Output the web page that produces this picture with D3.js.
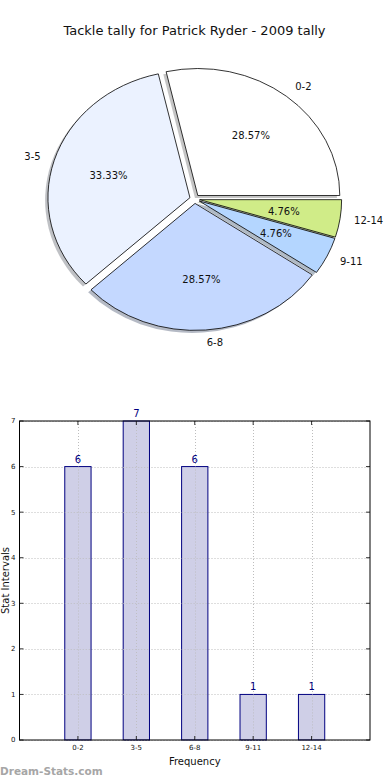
<!DOCTYPE html>
<html><head><meta charset="utf-8">
<script src="https://cdn.jsdelivr.net/npm/d3@7/dist/d3.min.js"></script>
<style>body{margin:0;background:#fff}svg{display:block;font-family:"DejaVu Sans",sans-serif}</style>
</head><body><svg id="c" width="390" height="780"></svg>
<script>
const title = "Tackle tally for Patrick Ryder - 2009 tally";
const categories = ["0-2","3-5","6-8","9-11","12-14"];
const counts = [6,7,6,1,1];
const pieColors = ["#ffffff","#ebf2ff","#c4d8ff","#b4d6ff","#d0ec88"];
const yTicks = [0,1,2,3,4,5,6,7];
const xLabel = "Frequency", yLabel = "Stat Intervals", watermark = "Dream-Stats.com";

const svg = d3.select("#c");
const total = d3.sum(counts);

// title
svg.append("text").attr("x",194.5).attr("y",35).attr("text-anchor","middle")
  .attr("font-size",13).attr("fill","#111").text(title);

// ---- PIE ----
const cx = 194.7, cy = 199, rx = 142, ry = 127, explode = 0.035;
const pie = d3.pie().sort(null).startAngle(Math.PI/2).endAngle(Math.PI/2 - 2*Math.PI);
const arcs = pie(counts);
const arcGen = d3.arc().innerRadius(0).outerRadius(1);
const pg = svg.append("g");
function center(d){
  const m = (d.startAngle+d.endAngle)/2;
  return [cx + explode*rx*Math.sin(m), cy - explode*ry*Math.cos(m), m];
}
// shadows first
arcs.forEach((d,i)=>{
  const [x,y] = center(d);
  pg.append("path").attr("d",arcGen(d))
    .attr("transform",`translate(${x-0.02*rx},${y+0.02*ry}) scale(${rx},${ry})`)
    .attr("fill",d3.rgb(pieColors[i]).darker(1.7)).attr("opacity",0.5);
});
arcs.forEach((d,i)=>{
  const [x,y,m] = center(d);
  pg.append("path").attr("d",arcGen(d))
    .attr("transform",`translate(${x},${y}) scale(${rx},${ry})`)
    .attr("fill",pieColors[i]).attr("stroke","#000").attr("stroke-width",0.8)
    .attr("vector-effect","non-scaling-stroke");
  const sx = Math.sin(m), sy = -Math.cos(m);
  pg.append("text").attr("x",x+0.6*rx*sx).attr("y",y+0.6*ry*sy).attr("dy","0.35em")
    .attr("text-anchor","middle").attr("font-size",10).attr("fill","#111")
    .text((counts[i]/total*100).toFixed(2)+"%");
  pg.append("text").attr("x",x+1.1*rx*sx).attr("y",y+1.1*ry*sy).attr("dy","0.35em")
    .attr("text-anchor", sx>0?"start":"end").attr("font-size",10).attr("fill","#111")
    .text(categories[i]);
});

// ---- BAR ----
const x = d3.scaleLinear().domain([0,6]).range([19.5,370]);
const y = d3.scaleLinear().domain([0,7]).range([740,421]);
const bg = svg.append("g");
const grid = bg.append("g").attr("stroke","#bdbdbd").attr("stroke-dasharray","1,2").attr("stroke-width",1);
yTicks.forEach(t=>grid.append("line").attr("x1",x(0)).attr("x2",x(6)).attr("y1",Math.round(y(t))+0.5).attr("y2",Math.round(y(t))+0.5));
categories.forEach((c,i)=>grid.append("line").attr("x1",Math.round(x(i+1))+0.5).attr("x2",Math.round(x(i+1))+0.5).attr("y1",y(0)).attr("y2",y(7)));

const bw = 0.45;
bg.selectAll("rect.bar").data(counts).join("rect").attr("class","bar")
  .attr("x",(d,i)=>x(i+1-bw/2)).attr("width",x(bw)-x(0))
  .attr("y",d=>y(d)).attr("height",d=>y(0)-y(d))
  .attr("fill","#ccccE6").attr("fill-opacity",0.95).attr("stroke","#000080").attr("stroke-width",1);
// grid shows over bars
const grid2 = bg.append("g").attr("stroke","#bdbdbd").attr("stroke-dasharray","1,2").attr("stroke-width",1).attr("opacity",0.8);
categories.forEach((c,i)=>grid2.append("line").attr("x1",Math.round(x(i+1))+0.5).attr("x2",Math.round(x(i+1))+0.5).attr("y1",y(counts[i])).attr("y2",y(0)));
yTicks.forEach(t=>counts.forEach((v,i)=>{ if(t<v) grid2.append("line").attr("x1",x(i+1-bw/2)).attr("x2",x(i+1+bw/2)).attr("y1",Math.round(y(t))+0.5).attr("y2",Math.round(y(t))+0.5); }));

bg.selectAll("text.val").data(counts).join("text").attr("class","val")
  .attr("x",(d,i)=>x(i+1)).attr("y",d=>y(d)-4).attr("text-anchor","middle")
  .attr("font-size",10).attr("fill","#000080").text(d=>d);

// frame
bg.append("rect").attr("x",x(0)).attr("y",y(7)).attr("width",x(6)-x(0)).attr("height",y(0)-y(7))
  .attr("fill","none").attr("stroke","#000").attr("stroke-width",1);

// ticks
const tk = bg.append("g").attr("stroke","#000").attr("stroke-width",0.8);
yTicks.forEach(t=>{
  tk.append("line").attr("x1",x(0)).attr("x2",x(0)+4).attr("y1",y(t)).attr("y2",y(t));
  tk.append("line").attr("x1",x(6)).attr("x2",x(6)-4).attr("y1",y(t)).attr("y2",y(t));
});
categories.forEach((c,i)=>{
  tk.append("line").attr("x1",x(i+1)).attr("x2",x(i+1)).attr("y1",y(0)).attr("y2",y(0)-4);
  tk.append("line").attr("x1",x(i+1)).attr("x2",x(i+1)).attr("y1",y(7)).attr("y2",y(7)+4);
});
bg.selectAll("text.yt").data(yTicks).join("text").attr("class","yt")
  .attr("x",x(0)-4).attr("y",d=>y(d)).attr("dy","0.35em").attr("text-anchor","end")
  .attr("font-size",7).attr("fill","#111").text(d=>d);
bg.selectAll("text.xt").data(categories).join("text").attr("class","xt")
  .attr("x",(d,i)=>x(i+1)).attr("y",y(0)+10).attr("text-anchor","middle")
  .attr("font-size",7).attr("fill","#111").text(d=>d);

svg.append("text").attr("x",(x(0)+x(6))/2).attr("y",765).attr("text-anchor","middle")
  .attr("font-size",10).attr("fill","#111").text(xLabel);
svg.append("text").attr("transform",`translate(9,${(y(0)+y(7))/2}) rotate(-90)`)
  .attr("text-anchor","middle").attr("font-size",10).attr("fill","#111").text(yLabel);

svg.append("text").attr("x",0).attr("y",775).attr("font-size",10.5).attr("font-weight","bold")
  .attr("fill","#a6a6a6").text(watermark);
</script></body></html>
